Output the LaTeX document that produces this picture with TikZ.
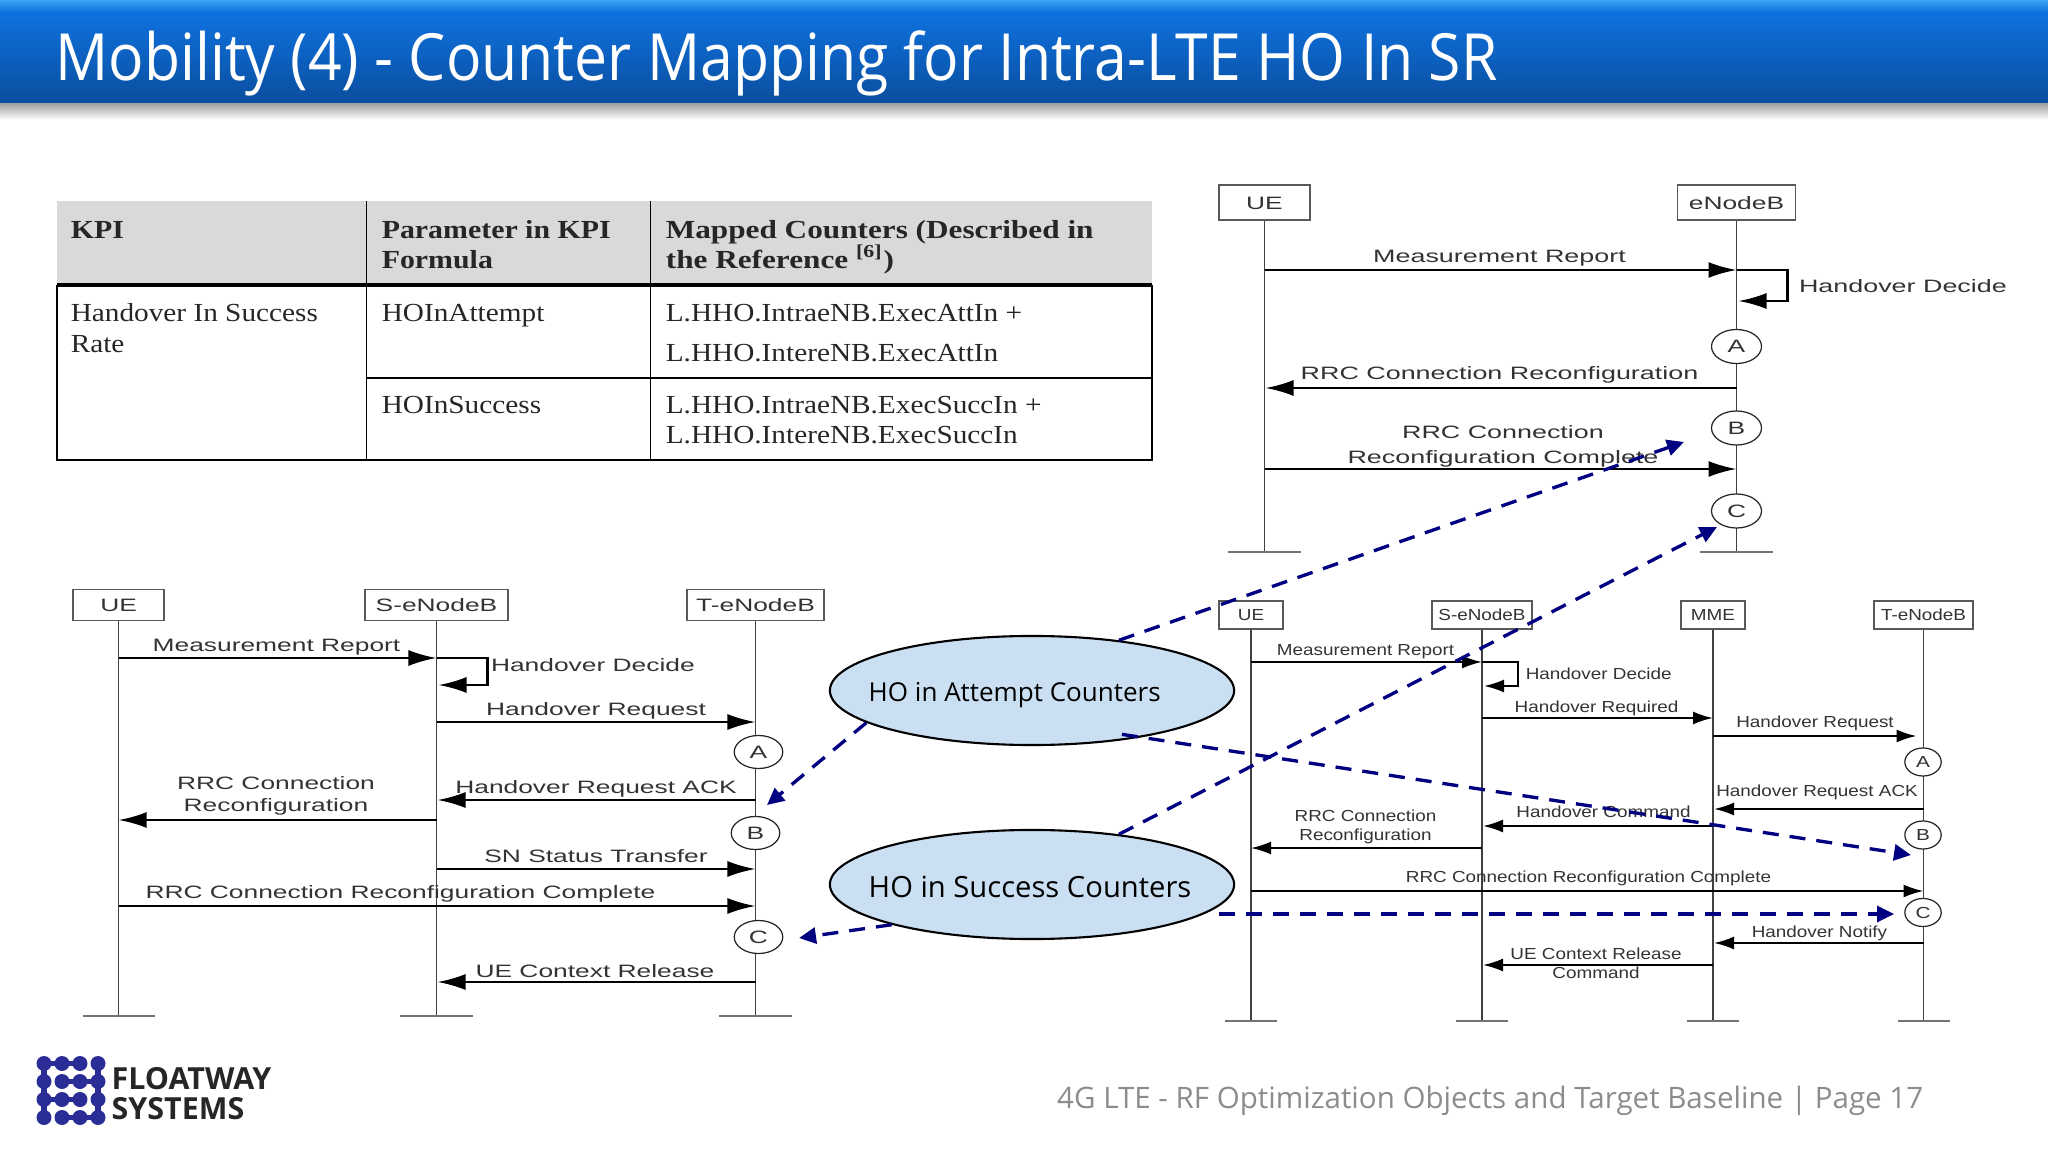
\documentclass[tikz,border=0pt]{standalone}
\usepackage{fontspec}
\usepackage{xcolor}
\usetikzlibrary{arrows.meta,shapes.geometric}
\setmainfont{Liberation Serif}
\setsansfont{Liberation Sans}
\newfontfamily\slidefont{Open Sans}
\definecolor{bandtop}{HTML}{37A5F5}
\definecolor{bandmid}{HTML}{0F72E0}
\definecolor{bandlow}{HTML}{0A4E9E}
\definecolor{headgray}{HTML}{D9D9D9}
\definecolor{bubble}{HTML}{CBDFF2}
\definecolor{dotblue}{HTML}{2B2D96}
\begin{document}
\begin{tikzpicture}[
    x=0.01cm, y=-0.01cm,
    tab/.style={font=\fontsize{7.4}{9}\selectfont\rmfamily, text=black!85, anchor=west, inner sep=0, text height=0.17cm, text depth=0pt, transform shape, xscale=1.125},
    tabhead/.style={tab, font=\fontsize{7.4}{9}\selectfont\rmfamily\bfseries, xscale=1.02},
    lbl/.style={font=\fontsize{5.1}{6}\selectfont\sffamily, text=black!80, inner sep=0, text height=0.13cm, text depth=0pt, transform shape, xscale=1.47},
    tlbl/.style={lbl, xscale=1.02},
    slbl/.style={font=\fontsize{4.55}{5.5}\selectfont\sffamily, text=black!80, inner sep=0, text height=0.115cm, text depth=0pt, transform shape, xscale=1.18},
    box/.style={lbl, rectangle, draw=black!65, fill=white, line width=0.45pt, minimum height=0.35cm},
    sbox/.style={slbl, rectangle, draw=black!65, fill=white, line width=0.4pt, minimum height=0.28cm},
    cir/.style={lbl, circle, draw=black!85, fill=white, line width=0.35pt, minimum size=0.34cm},
    scir/.style={slbl, circle, draw=black!85, fill=white, line width=0.35pt, minimum size=0.28cm, xscale=1.1},
    life/.style={draw=black!75, line width=0.45pt},
    foot/.style={draw=black!55, line width=0.7pt},
    msg/.style={line width=0.7pt, -{Latex[length=0.28cm, width=0.16cm]}},
    smsg/.style={line width=0.6pt, -{Latex[length=0.2cm, width=0.13cm]}},
    mapto/.style={draw=blue!50!black, color=blue!50!black, line width=0.95pt, dash pattern=on 0.16cm off 0.11cm, -{Triangle[length=0.17cm, width=0.16cm]}},
    counter/.style={ellipse, draw=black, fill=bubble, line width=0.6pt, minimum width=4.04cm, minimum height=1.09cm, inner sep=0},
    countertxt/.style={font=\fontsize{7.4}{9}\selectfont\slidefont, text=black, anchor=west, inner sep=0, text height=0.18cm, text depth=0pt}
]
    \useasboundingbox (0,0) rectangle (2048,1152);

    % title band
    \shade[top color=black!40, bottom color=white] (0,102) rectangle (2048,120);
    \shade[top color=bandmid, bottom color=bandlow] (0,11) rectangle (2048,103);
    \shade[top color=bandtop, bottom color=bandmid] (0,0) rectangle (2048,12);
    \node[font=\fontsize{18.5}{22}\selectfont\slidefont, text=white, anchor=west, inner sep=0, transform shape, xscale=0.905] (title) at (55,63) {Mobility (4) - Counter Mapping for Intra-LTE HO In SR};

    % KPI table
    \fill[headgray] (57,201) rectangle (1152,285);
    \draw[line width=0.5pt] (57,285) -- (57,460) -- (1152,460) -- (1152,285);
    \draw[line width=1pt] (57,285) -- (1152,285);
    \draw[line width=0.5pt] (366.5,201) -- (366.5,461);
    \draw[line width=0.5pt] (650.5,201) -- (650.5,461);
    \draw[line width=0.5pt] (366.5,378) -- (1152,378);
    \node[tabhead] (kpi) at (70,230) {KPI};
    \node[tabhead] (par1) at (381,230) {Parameter in KPI};
    \node[tabhead] (par2) at (381,260) {Formula};
    \node[tabhead, xscale=1.046] (map1) at (665,230) {Mapped Counters (Described in};
    \node[tabhead, xscale=1.046] (map2) at (665,260) {the Reference \textsuperscript{[6]})};
    \node[tab] (rate1) at (70,313) {Handover In Success};
    \node[tab] (rate2) at (70,344) {Rate};
    \node[tab] (att) at (381,313) {HOInAttempt};
    \node[tab] (att1) at (665,313) {L.HHO.IntraeNB.ExecAttIn +};
    \node[tab] (att2) at (665,353) {L.HHO.IntereNB.ExecAttIn};
    \node[tab] (suc) at (381,405) {HOInSuccess};
    \node[tab] (suc1) at (665,405) {L.HHO.IntraeNB.ExecSuccIn +};
    \node[tab] (suc2) at (665,435) {L.HHO.IntereNB.ExecSuccIn};

    % top chart
    \node[box, minimum width=0.62cm] (tue) at (1264.5,202.5) {UE};
    \node[box, minimum width=0.8cm] (tenb) at (1736.5,202.5) {eNodeB};
    \foreach \n in {tue,tenb} {
        \draw[life] (\n) -- (\n |- 0,552);
        \draw[foot] ([xshift=-0.36cm]\n |- 0,552) -- ([xshift=0.36cm]\n |- 0,552);
    }
    \draw[msg] (tue |- 0,270) -- (tenb |- 0,270);
    \draw[msg] (tenb |- 0,270) -- ++(51,0) |- ([xshift=0.02cm]tenb |- 0,301);
    \draw[msg] (tenb |- 0,388) -- ([xshift=0.01cm]tue |- 0,388);
    \draw[msg] (tue |- 0,469) -- (tenb |- 0,469);
    \node[tlbl] (t1) at (1499.5,256) {Measurement Report};
    \node[tlbl, anchor=west] (t2) at (1798,286) {Handover Decide};
    \node[tlbl] (t3) at (1499.5,373) {RRC Connection Reconfiguration};
    \node[tlbl] (t4) at (1503,432) {RRC Connection};
    \node[tlbl] (t5) at (1503,457) {Reconfiguration Complete};
    \node[cir] (ta) at (1736.5,346.5) {A};
    \node[cir] (tb) at (1736.5,428) {B};
    \node[cir] (tc) at (1736.5,511) {C};

    % left chart
    \node[box, minimum width=0.62cm, minimum height=0.31cm] (lue) at (118.6,605) {UE};
    \node[box, minimum width=0.97cm, minimum height=0.31cm] (ls) at (436.5,605) {S-eNodeB};
    \node[box, minimum width=0.93cm, minimum height=0.31cm] (lt) at (755.5,605) {T-eNodeB};
    \foreach \n in {lue,ls,lt} {
        \draw[life] (\n) -- (\n |- 0,1016);
        \draw[foot] ([xshift=-0.36cm]\n |- 0,1016) -- ([xshift=0.36cm]\n |- 0,1016);
    }
    \draw[msg] (lue |- 0,658) -- (ls |- 0,658);
    \draw[msg] (ls |- 0,658) -- ++(51,0) |- ([xshift=0.02cm]ls |- 0,685);
    \draw[msg] (ls |- 0,722) -- (lt |- 0,722);
    \draw[msg] (lt |- 0,800) -- ([xshift=0.01cm]ls |- 0,800);
    \draw[msg] (ls |- 0,820) -- (lue |- 0,820);
    \draw[msg] (ls |- 0,869) -- (lt |- 0,869);
    \draw[msg] (lue |- 0,906) -- (lt |- 0,906);
    \draw[msg] (lt |- 0,982) -- ([xshift=0.01cm]ls |- 0,982);
    \node[lbl] (l1) at (276.5,645) {Measurement Report};
    \node[lbl, anchor=west] (l2) at (490,665) {Handover Decide};
    \node[lbl] (l3) at (596,709) {Handover Request};
    \node[lbl] (l4) at (596,787) {Handover Request ACK};
    \node[lbl] (l5) at (276,783) {RRC Connection};
    \node[lbl] (l6) at (276,805) {Reconfiguration};
    \node[lbl] (l7) at (596,856) {SN Status Transfer};
    \node[lbl] (l8) at (400.5,892) {RRC Connection Reconfiguration Complete};
    \node[lbl] (l9) at (595,970.5) {UE Context Release};
    \node[cir, minimum size=0.33cm] (la) at (758.5,752) {A};
    \node[cir, minimum size=0.33cm] (lb) at (755.5,833) {B};
    \node[cir, minimum size=0.33cm] (lc) at (758.5,937) {C};

    % right chart
    \node[sbox, minimum width=0.54cm] (rue) at (1251,615) {UE};
    \node[sbox, minimum width=0.85cm] (rs) at (1482,615) {S-eNodeB};
    \node[sbox, minimum width=0.54cm] (rm) at (1713,615) {MME};
    \node[sbox, minimum width=0.84cm] (rt) at (1923.5,615) {T-eNodeB};
    \foreach \n in {rue,rs,rm,rt} {
        \draw[life] (\n) -- (\n |- 0,1021);
        \draw[foot] ([xshift=-0.26cm]\n |- 0,1021) -- ([xshift=0.26cm]\n |- 0,1021);
    }
    \draw[smsg] (rue |- 0,662) -- (rs |- 0,662);
    \draw[smsg] (rs |- 0,662) -- ++(36,0) |- ([xshift=0.02cm]rs |- 0,686);
    \draw[smsg] (rs |- 0,718) -- (rm |- 0,718);
    \draw[smsg] (rm |- 0,736) -- ([xshift=-0.07cm]rt |- 0,736);
    \draw[smsg] (rt |- 0,809) -- ([xshift=0.01cm]rm |- 0,809);
    \draw[smsg] (rm |- 0,826) -- ([xshift=0.01cm]rs |- 0,826);
    \draw[smsg] (rs |- 0,848) -- (rue |- 0,848);
    \draw[smsg] (rue |- 0,891) -- (rt |- 0,891);
    \draw[smsg] (rt |- 0,943) -- ([xshift=0.01cm]rm |- 0,943);
    \draw[smsg] (rm |- 0,965) -- ([xshift=0.01cm]rs |- 0,965);
    \node[slbl] (r1) at (1365.5,650) {Measurement Report};
    \node[slbl, anchor=west] (r2) at (1525,674) {Handover Decide};
    \node[slbl] (r3) at (1596.5,706.5) {Handover Required};
    \node[slbl] (r4) at (1815,721.5) {Handover Request};
    \node[slbl] (r5) at (1817,791) {Handover Request ACK};
    \node[slbl] (r6) at (1603.5,812) {Handover Command};
    \node[slbl] (r7) at (1365.5,816) {RRC Connection};
    \node[slbl] (r8) at (1365.5,835) {Reconfiguration};
    \node[slbl] (r9) at (1588.5,877) {RRC Connection Reconfiguration Complete};
    \node[slbl] (r10) at (1819.5,931.5) {Handover Notify};
    \node[slbl] (r11) at (1596,954) {UE Context Release};
    \node[slbl] (r12) at (1596,973) {Command};
    \node[scir] (ra) at (1923,762) {A};
    \node[scir] (rb) at (1923,835) {B};
    \node[scir] (rc) at (1923,912.5) {C};

    % counter bubbles
    \node[counter] (attempt) at (1032,690.5) {};
    \node[counter] (success) at (1032,884.5) {};
    \node[countertxt] (attemptlbl) at (868,692) {HO in Attempt Counters};
    \node[countertxt, font=\fontsize{8.3}{10}\selectfont\slidefont, text height=0.2cm] (successlbl) at (868,887) {HO in Success Counters};
    \coordinate (tipa) at (1684,442);
    \coordinate (tipb) at (767,805);
    \coordinate (tipc) at (1911,855);
    \coordinate (tipd) at (1717,527);
    \coordinate (tipe) at (799,938);
    \coordinate (tipf) at (1894,914);
    \draw[mapto] (attempt.30) -- (tipa);
    \draw[mapto] (attempt.191) -- (tipb);
    \draw[mapto] ([yshift=0.06cm]attempt.-29) -- (tipc);
    \draw[mapto] (success.30) -- (tipd);
    \draw[mapto] (success.196) -- (tipe);
    \draw[mapto] ([xshift=-0.16cm]success.east |- tipf) -- (tipf);

    % logo and footer
    \foreach \c/\r/\d/\e in {1/1/2/1, 2/1/3/1, 1/1/1/2, 1/2/1/3, 1/3/1/4, 1/3/2/3, 2/3/3/3, 2/2/3/2, 3/2/4/2, 4/2/4/3, 4/3/4/4, 2/4/3/4, 3/4/4/4, 4/1/4/2}
        \draw[dotblue, line width=1.6pt] (26+18*\c,1045.5+18*\r) -- (26+18*\d,1045.5+18*\e);
    \foreach \c in {1,...,4}
        \foreach \r in {1,...,4}
            \fill[dotblue] (26+18*\c,1045.5+18*\r) circle (7.5 and 7.5);
    \node[font=\fontsize{8.65}{10}\selectfont\slidefont\bfseries, text=black!85, anchor=west, inner sep=0] (floatway) at (111,1079) {FLOATWAY};
    \node[font=\fontsize{8.65}{10}\selectfont\slidefont\bfseries, text=black!85, anchor=west, inner sep=0] (systems) at (111,1109) {SYSTEMS};
    \node[font=\fontsize{8.4}{10}\selectfont\slidefont, text=black!45, anchor=west, inner sep=0] (pageno) at (1056.5,1101) {4G LTE - RF Optimization Objects and Target Baseline | Page 17};
\end{tikzpicture}
\end{document}
